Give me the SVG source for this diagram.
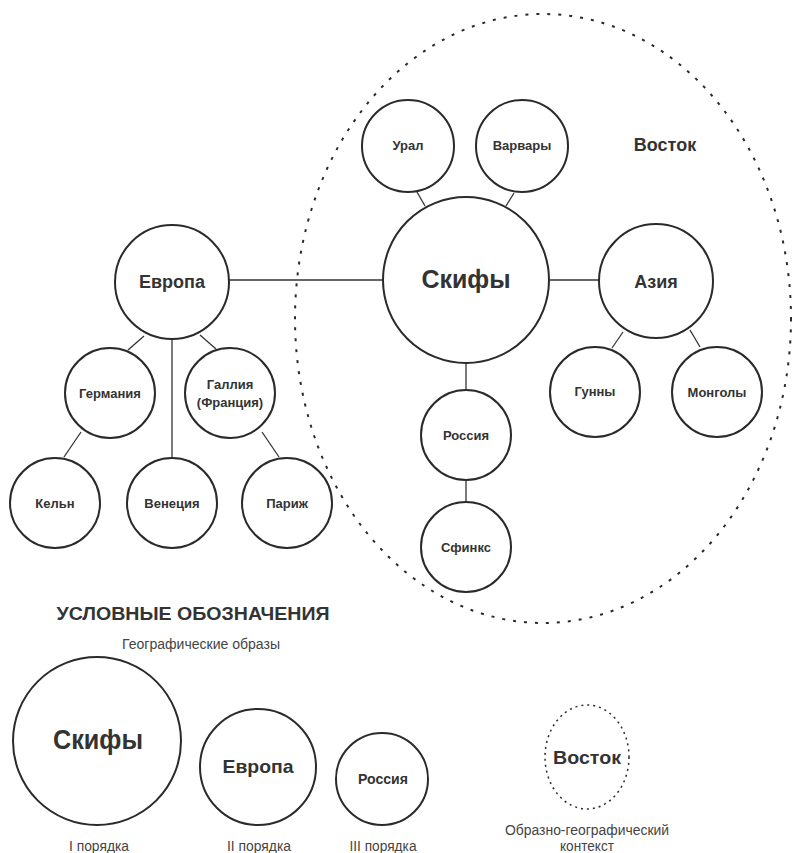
<svg xmlns="http://www.w3.org/2000/svg" width="792" height="853" viewBox="0 0 792 853">
<style>
.n{fill:#fff;stroke:#2a2a2a;stroke-width:2}
.c line{stroke:#333;stroke-width:1.3}
text{font-family:"Liberation Sans",Arial,sans-serif;fill:#333;text-anchor:middle;dominant-baseline:central}
.b{font-weight:bold}
.s13{font-size:13px}
.s18{font-size:18px}
.leg{font-size:14px;fill:#444}
</style>
<rect width="792" height="853" fill="#fff"/>
<g id="vostok">
<ellipse cx="543" cy="318.5" rx="248" ry="304.5" fill="none" stroke="#2a2a2a" stroke-width="2" stroke-dasharray="3 8"/>
<text x="665" y="145" class="b s18">Восток</text>
</g>
<g class="c" id="connectors">
<line x1="228" y1="280" x2="384" y2="280"/>
<line x1="547" y1="280" x2="599" y2="280"/>
<line x1="417" y1="192" x2="425" y2="206"/>
<line x1="514" y1="193" x2="506" y2="206"/>
<line x1="466" y1="363" x2="466" y2="390"/>
<line x1="466" y1="480" x2="466" y2="502"/>
<line x1="623" y1="332" x2="612" y2="348"/>
<line x1="690" y1="330" x2="700" y2="347"/>
<line x1="144" y1="336" x2="128" y2="350"/>
<line x1="172" y1="339" x2="172" y2="458"/>
<line x1="200" y1="335" x2="216" y2="349"/>
<line x1="81" y1="432" x2="64" y2="457"/>
<line x1="262" y1="432" x2="279" y2="457"/>
</g>
<g id="skify"><circle class="n" cx="466" cy="280" r="83"/><text x="466" y="279" class="b" font-size="25">Скифы</text></g>
<g id="ural"><circle class="n" cx="408" cy="146" r="46"/><text x="408" y="145" class="b s13">Урал</text></g>
<g id="varvary"><circle class="n" cx="522" cy="146" r="46"/><text x="522" y="145" class="b s13">Варвары</text></g>
<g id="aziya"><circle class="n" cx="656" cy="281" r="57"/><text x="656" y="282" class="b s18">Азия</text></g>
<g id="gunny"><circle class="n" cx="595" cy="392" r="45"/><text x="595" y="391" class="b s13">Гунны</text></g>
<g id="mongoly"><circle class="n" cx="717" cy="392" r="45"/><text x="717" y="392" class="b s13">Монголы</text></g>
<g id="rossiya"><circle class="n" cx="466" cy="435" r="45"/><text x="466" y="435" class="b s13">Россия</text></g>
<g id="sfinks"><circle class="n" cx="466" cy="547" r="45"/><text x="466" y="547" class="b s13">Сфинкс</text></g>
<g id="evropa"><circle class="n" cx="172" cy="282" r="57"/><text x="172" y="282" class="b s18">Европа</text></g>
<g id="germaniya"><circle class="n" cx="110" cy="393" r="45"/><text x="110" y="393" class="b s13">Германия</text></g>
<g id="galliya"><circle class="n" cx="230" cy="393" r="45"/><text x="230" y="384" class="b s13">Галлия</text><text x="230" y="402" class="b s13">(Франция)</text></g>
<g id="keln"><circle class="n" cx="55" cy="503" r="45"/><text x="55" y="503" class="b s13">Кельн</text></g>
<g id="veneciya"><circle class="n" cx="172" cy="503" r="45"/><text x="172" y="503" class="b s13">Венеция</text></g>
<g id="parizh"><circle class="n" cx="287" cy="503" r="45"/><text x="287" y="503" class="b s13">Париж</text></g>
<g id="legend">
<text x="193" y="613" class="b" font-size="19" fill="#222" textLength="273" lengthAdjust="spacingAndGlyphs">УСЛОВНЫЕ ОБОЗНАЧЕНИЯ</text>
<text x="201" y="644" class="leg" textLength="158" lengthAdjust="spacingAndGlyphs">Географические образы</text>
<g id="leg1"><circle class="n" cx="97" cy="741" r="84"/><text x="98" y="740" class="b" font-size="27" textLength="90" lengthAdjust="spacingAndGlyphs">Скифы</text></g>
<g id="leg2"><circle class="n" cx="258" cy="767" r="58"/><text x="258" y="766" class="b" font-size="19" textLength="71" lengthAdjust="spacingAndGlyphs">Европа</text></g>
<g id="leg3"><circle class="n" cx="382" cy="779" r="46"/><text x="383" y="779" class="b" font-size="14" textLength="50" lengthAdjust="spacingAndGlyphs">Россия</text></g>
<g id="leg4"><ellipse cx="587" cy="757" rx="42" ry="52" fill="none" stroke="#2a2a2a" stroke-width="1.5" stroke-dasharray="2 4"/><text x="587" y="758" class="b" font-size="18" textLength="68" lengthAdjust="spacingAndGlyphs">Восток</text></g>
<text x="99" y="846" class="leg" textLength="60" lengthAdjust="spacingAndGlyphs">I порядка</text>
<text x="259" y="846" class="leg" textLength="64" lengthAdjust="spacingAndGlyphs">II порядка</text>
<text x="383" y="846" class="leg" textLength="67" lengthAdjust="spacingAndGlyphs">III порядка</text>
<text x="587" y="830" class="leg" textLength="164" lengthAdjust="spacingAndGlyphs">Образно-географический</text>
<text x="587" y="846" class="leg" textLength="54" lengthAdjust="spacingAndGlyphs">контекст</text>
</g>
</svg>
